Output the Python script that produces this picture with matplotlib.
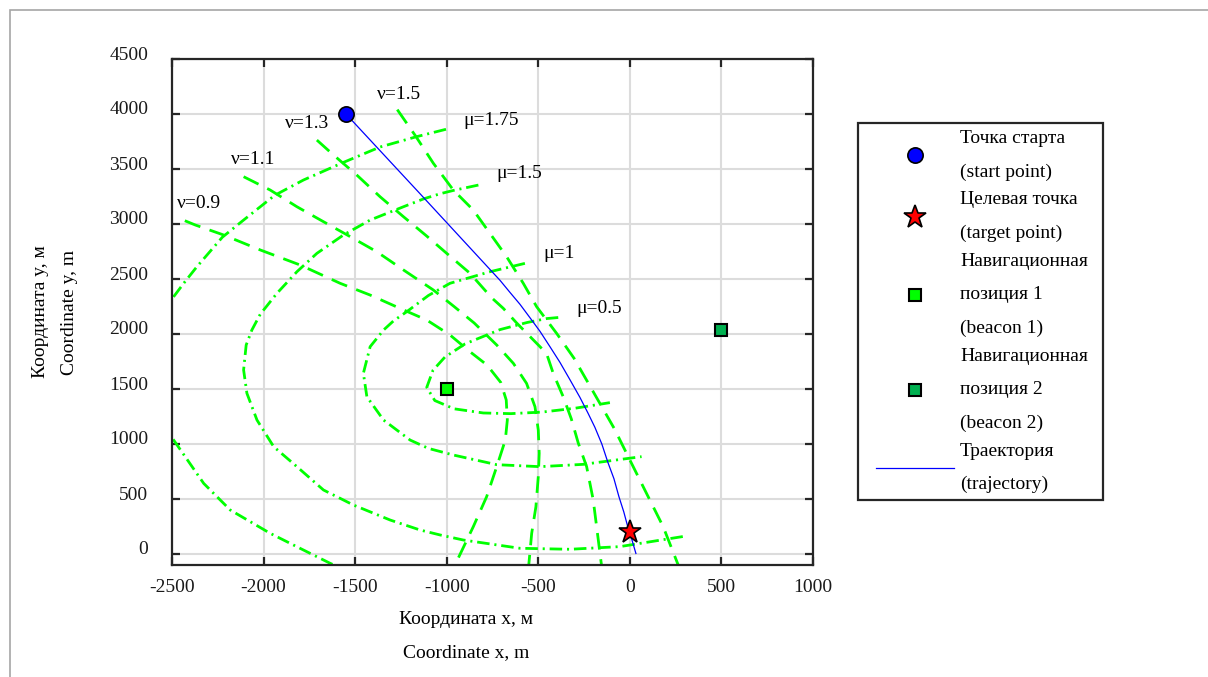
import matplotlib
matplotlib.use('Agg')
import matplotlib.pyplot as plt
from matplotlib.patches import Rectangle
from matplotlib.lines import Line2D
from matplotlib.legend_handler import HandlerLine2D
from matplotlib.transforms import ScaledTranslation

# ---------------- data ----------------
start_x = [-1550]
start_y = [4000]
target_x = [0]
target_y = [200]
beacon1_x = [-1000]
beacon1_y = [1500]
beacon2_x = [500]
beacon2_y = [2040]

traj_x = [-1550, -1145, -709, -655, -600, -545, -491, -436, -382, -327, -273, -229, -191, -153, -120, -87,
          -60, -33, -11, 11, 33]
traj_y = [4000, 3274, 2488, 2379, 2270, 2147, 2025, 1884, 1743, 1584, 1425, 1282, 1152, 1000, 833, 685,
          523, 382, 245, 131, 5]

# mu curves (dash-dot)
mu05_x = [-391, -455, -560, -709, -900, -1010, -1075, -1109, -1065, -960, -800, -650, -480, -300, -109]
mu05_y = [2150, 2140, 2105, 2040, 1910, 1790, 1670, 1515, 1395, 1320, 1282, 1276, 1290, 1325, 1376]

mu1_x = [-573, -764, -982, -1100, -1218, -1290, -1345, -1418, -1455, -1436, -1345, -1200, -1100, -964, -727, -491, -255, 64]
mu1_y = [2642, 2566, 2461, 2350, 2203, 2120, 2036, 1885, 1643, 1430, 1218, 1036, 960, 900, 812, 794, 815, 885]

mu15_x = [-827, -964, -1036, -1127, -1236, -1418, -1564, -1709, -1818, -1927, -2018, -2064, -2095, -2109, -2091,
          -2036, -1945, -1818, -1673, -1509, -1309, -1145, -1036, -909, -600, -327, -55, 309]
mu15_y = [3354, 3305, 3275, 3228, 3157, 3036, 2900, 2733, 2566, 2370, 2180, 2036, 1900, 1673, 1461,
          1218, 976, 794, 582, 445, 309, 218, 173, 127, 52, 43, 67, 164]

mu175_x = [-1004, -1164, -1364, -1564, -1782, -1940, -2109, -2225, -2364, -2436, -2491, -2580, -2640, -2650,
           -2620, -2491, -2327, -2182, -1964, -1782, -1636, -1560]
mu175_y = [3861, 3794, 3700, 3560, 3400, 3260, 3036, 2880, 2612, 2461, 2339, 2100, 1800, 1600,
           1300, 1036, 642, 400, 188, 36, -85, -140]

# nu curves (dashed)
nu09_x = [-2430, -2373, -2218, -2018, -1800, -1582, -1418, -1255, -1109, -982, -873, -780, -705, -675, -669,
          -680, -727, -782, -855, -955]
nu09_y = [3030, 2991, 2900, 2764, 2627, 2461, 2354, 2233, 2127, 1991, 1839, 1718, 1560, 1400, 1218,
          1036, 794, 521, 248, -100]

nu11_x = [-2109, -1964, -1818, -1673, -1527, -1382, -1236, -1073, -960, -850, -727, -636, -564, -518, -500,
          -495, -500, -513, -536, -552]
nu11_y = [3430, 3309, 3157, 3021, 2885, 2748, 2582, 2400, 2250, 2100, 1900, 1733, 1551, 1339, 1127,
          915, 703, 430, 188, -100]

nu13_x = [-1709, -1618, -1491, -1364, -1236, -1109, -1000, -873, -755, -691, -618, -455, -418, -364, -320,
          -282, -236, -200, -155]
nu13_y = [3763, 3627, 3445, 3248, 3066, 2890, 2733, 2552, 2330, 2233, 2100, 1824, 1640, 1430, 1230,
          1010, 794, 491, -100]

nu15_x = [-1270, -1170, -1073, -964, -855, -764, -673, -582, -509, -400, -305, -200, -85, 0, 91, 182, 264]
nu15_y = [4040, 3800, 3552, 3309, 3127, 2915, 2703, 2461, 2248, 2006, 1780, 1475, 1140, 855, 551, 248, -100]

curve_labels = ['ν=1.5', 'ν=1.3', 'ν=1.1', 'ν=0.9', 'μ=1.75', 'μ=1.5', 'μ=1', 'μ=0.5']
label_x = [-1260, -1765, -2055, -2351, -755, -605, -387, -169]
label_y = [4173, 3915, 3582, 3188, 3945, 3461, 2733, 2233]

xticks = [-2500, -2000, -1500, -1000, -500, 0, 500, 1000]
yticks = [0, 500, 1000, 1500, 2000, 2500, 3000, 3500, 4000, 4500]

legend_labels = ['Точка старта\n(start point)',
                 'Целевая точка\n(target point)',
                 'Навигационная\nпозиция 1\n(beacon 1)',
                 'Навигационная\nпозиция 2\n(beacon 2)',
                 'Траектория\n(trajectory)']

# ---------------- style ----------------
plt.rcParams['font.family'] = ['Liberation Serif', 'DejaVu Serif']
plt.rcParams['lines.scale_dashes'] = False
plt.rcParams['axes.unicode_minus'] = False

W, H = 1208, 677
fig = plt.figure(figsize=(W / 100, H / 100), dpi=100)
fig.patch.set_facecolor('white')
ax = fig.add_axes([172 / W, 1 - 565 / H, 641 / W, 506 / H])

GREEN = '#00ff00'
mu_style = dict(color=GREEN, lw=2.0, linestyle=(0, (9, 3.5, 1.5, 3.5)), zorder=2, dash_capstyle='butt')
nu_style = dict(color=GREEN, lw=2.0, linestyle=(0, (12, 7)), zorder=2, dash_capstyle='butt')

for xs, ys in [(mu05_x, mu05_y), (mu1_x, mu1_y), (mu15_x, mu15_y), (mu175_x, mu175_y)]:
    ax.plot(xs, ys, **mu_style)
for xs, ys in [(nu09_x, nu09_y), (nu11_x, nu11_y), (nu13_x, nu13_y), (nu15_x, nu15_y)]:
    ax.plot(xs, ys, **nu_style)

h_traj, = ax.plot(traj_x, traj_y, color='#0000ff', lw=0.9, zorder=3, solid_joinstyle='round')
h_start, = ax.plot(start_x, start_y, 'o', ms=11, mfc='#0000ff', mec='k', mew=1.2, ls='none', zorder=5)
h_target, = ax.plot(target_x, target_y, '*', ms=17, mfc='#ff0000', mec='k', mew=1.2, ls='none', zorder=5)
h_b1, = ax.plot(beacon1_x, beacon1_y, 's', ms=9, mfc='#00ff00', mec='k', mew=1.5, ls='none', zorder=5)
h_b2, = ax.plot(beacon2_x, beacon2_y, 's', ms=9, mfc='#00b050', mec='k', mew=1.5, ls='none', zorder=5)

for t, x, y in zip(curve_labels, label_x, label_y):
    ax.text(x, y, t, fontsize=14, ha='center', va='center', zorder=4)

ax.set_xlim(-2500, 1000)
ax.set_ylim(-100, 4500)
ax.set_xticks(xticks)
ax.set_yticks(yticks)
ax.grid(True, color='#dcdcdc', lw=1.5)
ax.set_axisbelow(True)
for s in ax.spines.values():
    s.set_linewidth(1.6)
    s.set_color('#262626')
ax.tick_params(direction='in', length=6, width=1.6, top=True, right=True, labelsize=14,
               color='#262626', labelcolor='#1a1a1a')
ax.tick_params(axis='x', pad=10)
ax.tick_params(axis='y', pad=17)
off = ScaledTranslation(0, 6 / 100, fig.dpi_scale_trans)
for lab in ax.get_yticklabels():
    lab.set_transform(lab.get_transform() + off)

ax.set_xlabel('Координата x, м\nCoordinate x, m', fontsize=14, linespacing=2.28)
ax.xaxis.set_label_coords(0.4587, -0.09)
ax.set_ylabel('Координата y, м\nCoordinate y, m', fontsize=14, linespacing=1.94)
ax.yaxis.set_label_coords(-0.1463, 0.5)

leg = ax.legend(handles=[h_start, h_target, h_b1, h_b2, h_traj], labels=legend_labels,
                loc='upper left', bbox_to_anchor=(858 / W, 1 - 498 / H, 245 / W, 375 / H),
                bbox_transform=fig.transFigure, mode='expand',
                fontsize=14, frameon=True, fancybox=False, edgecolor='#262626', framealpha=1,
                borderpad=0.35, handlelength=4.6, handletextpad=0.3, labelspacing=0.55,
                borderaxespad=0, numpoints=1, handler_map={Line2D: HandlerLine2D(xpad=0.6)})
leg.get_frame().set_linewidth(1.6)
for t in leg.get_texts():
    t.set_linespacing(2.25)

fig.add_artist(Rectangle((10 / W, -0.1), 1.2, 1.1 - 10 / H, transform=fig.transFigure,
                         fill=False, edgecolor='#a6a6a6', lw=1.2))

fig.savefig('out.png', dpi=100)
